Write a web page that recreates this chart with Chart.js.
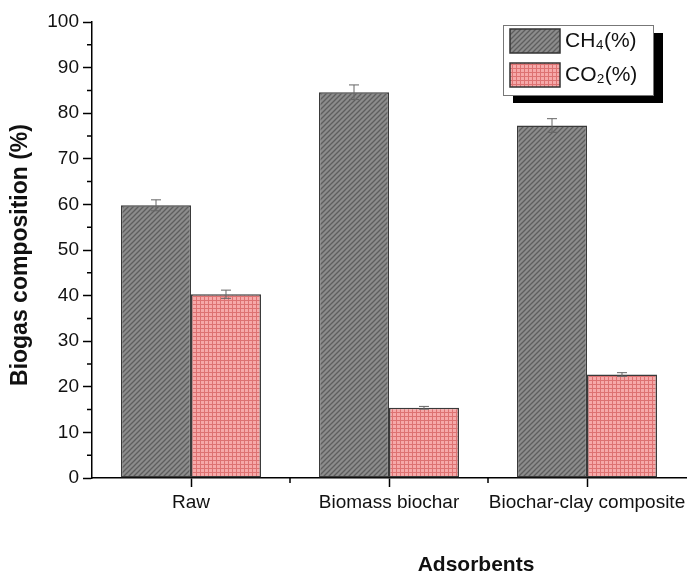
<!DOCTYPE html>
<html>
<head>
<meta charset="utf-8">
<script src="https://cdn.jsdelivr.net/npm/chart.js@4"></script>
<style>
  html, body { margin: 0; padding: 0; background: #fff; }
  #wrap { width: 687px; height: 576px; }
</style>
</head>
<body>
<div id="wrap"><canvas id="myChart"></canvas></div>
<script>
var categories = ['Raw', 'Biomass biochar', 'Biochar-clay composite']
var ch4Values = [59.8, 84.6, 77.3]
var ch4Errors = [1.2, 1.6, 1.5]
var co2Values = [40.3, 15.4, 22.7]
var co2Errors = [0.9, 0.3, 0.4]
var yTicks = [0, 10, 20, 30, 40, 50, 60, 70, 80, 90, 100]
var xTitle = 'Adsorbents'
var yTitle = 'Biogas composition (%)'

var fontFamily = '"Liberation Sans", Arial, sans-serif'

function hatchPattern() {
	var c = document.createElement('canvas')
	c.width = 5; c.height = 5
	var g = c.getContext('2d')
	g.fillStyle = '#8c8c8c'
	g.fillRect(0, 0, 5, 5)
	g.strokeStyle = '#5e5e5e'
	g.lineWidth = 1.3
	g.beginPath()
	g.moveTo(-1, 6); g.lineTo(6, -1)
	g.moveTo(-1, 1); g.lineTo(1, -1)
	g.moveTo(4, 6); g.lineTo(6, 4)
	g.stroke()
	return g.createPattern(c, 'repeat')
}

function gridPattern() {
	var c = document.createElement('canvas')
	c.width = 4; c.height = 4
	var g = c.getContext('2d')
	g.fillStyle = '#f6a9a9'
	g.fillRect(0, 0, 4, 4)
	g.fillStyle = '#dd7272'
	g.fillRect(0, 0, 4, 1)
	g.fillRect(0, 0, 1, 4)
	return g.createPattern(c, 'repeat')
}

var ch4Fill = hatchPattern()
var co2Fill = gridPattern()

// error bars, drawn through the y scale
var errorBars = {
	id: 'errorBars',
	afterDatasetsDraw: function (chart) {
		var ctx = chart.ctx
		var y = chart.scales.y
		var errs = [ch4Errors, co2Errors]
		chart.data.datasets.forEach(function (ds, i) {
			var meta = chart.getDatasetMeta(i)
			meta.data.forEach(function (bar, j) {
				var v = ds.data[j], e = errs[i][j]
				var top = y.getPixelForValue(v + e)
				var bot = y.getPixelForValue(v - e)
				ctx.save()
				ctx.strokeStyle = '#666'
				ctx.lineWidth = 1
				ctx.beginPath()
				ctx.moveTo(bar.x, top); ctx.lineTo(bar.x, bot)
				ctx.moveTo(bar.x - 5, top); ctx.lineTo(bar.x + 5, top)
				ctx.moveTo(bar.x - 5, bot); ctx.lineTo(bar.x + 5, bot)
				ctx.stroke()
				ctx.restore()
			})
		})
	}
}

// minor ticks, boundary ticks and axis titles
var axisExtras = {
	id: 'axisExtras',
	afterDraw: function (chart) {
		var ctx = chart.ctx
		var y = chart.scales.y, x = chart.scales.x
		var area = chart.chartArea
		ctx.save()
		ctx.strokeStyle = '#000'
		ctx.lineWidth = 1.5
		ctx.beginPath()
		for (var k = 0; k < yTicks.length - 1; k++) {
			var py = y.getPixelForValue((yTicks[k] + yTicks[k + 1]) / 2)
			ctx.moveTo(area.left, py); ctx.lineTo(area.left - 5, py)
		}
		for (var i = 0; i < categories.length - 1; i++) {
			var px = (x.getPixelForValue(i) + x.getPixelForValue(i + 1)) / 2
			ctx.moveTo(px, area.bottom); ctx.lineTo(px, area.bottom + 5)
		}
		ctx.stroke()

		ctx.fillStyle = '#111'
		ctx.font = 'bold 21px ' + fontFamily
		ctx.textAlign = 'center'
		ctx.textBaseline = 'middle'
		ctx.fillText(xTitle, 476, 565)
		ctx.font = 'bold 23px ' + fontFamily
		ctx.translate(21, 255)
		ctx.rotate(-Math.PI / 2)
		ctx.fillText(yTitle, 0, 0)
		ctx.restore()
	}
}

// boxed legend with shadow
var boxLegend = {
	id: 'boxLegend',
	afterDraw: function (chart) {
		var ctx = chart.ctx
		var bx = 503, by = 25, bw = 150, bh = 70
		ctx.save()
		ctx.fillStyle = '#000'
		ctx.fillRect(bx + 10, by + 8, bw, bh)
		ctx.fillStyle = '#fff'
		ctx.fillRect(bx, by, bw, bh)
		ctx.strokeStyle = '#777'
		ctx.lineWidth = 1
		ctx.strokeRect(bx + 0.5, by + 0.5, bw, bh)
		chart.data.datasets.forEach(function (ds, i) {
			var sy = by + 4 + i * 34
			ctx.fillStyle = ds.backgroundColor
			ctx.fillRect(bx + 7, sy, 50, 24)
			ctx.strokeStyle = '#333'
			ctx.lineWidth = 1.5
			ctx.strokeRect(bx + 7, sy, 50, 24)
			ctx.fillStyle = '#111'
			ctx.font = '21px ' + fontFamily
			ctx.textBaseline = 'middle'
			ctx.fillText(ds.label, bx + 62, sy + 12)
		})
		ctx.restore()
	}
}

var ctx = document.getElementById('myChart')
var chart = new Chart(ctx, {
	type: 'bar',
	data: {
		labels: categories,
		datasets: [{
			label: 'CH₄(%)',
			data: ch4Values,
			backgroundColor: ch4Fill,
			borderColor: '#3a3a3a',
			borderWidth: 1.5,
			borderSkipped: false,
		}, {
			label: 'CO₂(%)',
			data: co2Values,
			backgroundColor: co2Fill,
			borderColor: '#3a3a3a',
			borderWidth: 1.5,
			borderSkipped: false,
		}]
	},
	options: {
		responsive: true,
		maintainAspectRatio: false,
		animation: false,
		layout: { padding: { top: 22, right: 1, left: 0, bottom: 0 } },
		datasets: { bar: { categoryPercentage: 0.707, barPercentage: 1 } },
		plugins: { legend: { display: false }, tooltip: { enabled: false } },
		scales: {
			x: {
				offset: true,
				grid: { display: true, drawOnChartArea: false, offset: false, tickLength: 9, tickColor: '#000', tickWidth: 1.5 },
				border: { color: '#000', width: 1.5 },
				ticks: { color: '#111', font: { size: 19, family: fontFamily }, padding: 4, maxRotation: 0, autoSkip: false },
				afterFit: function (s) { s.height = 98; s.paddingLeft = 0; s.paddingRight = 0 }
			},
			y: {
				min: 0, max: 100,
				afterBuildTicks: function (s) { s.ticks = yTicks.map(function (v) { return { value: v } }) },
				grid: { drawOnChartArea: false, tickLength: 9, tickColor: '#000', tickWidth: 1.5 },
				border: { color: '#000', width: 1.5 },
				ticks: { color: '#111', font: { size: 19, family: fontFamily }, padding: 4 },
				afterFit: function (s) { s.width = 92 }
			}
		}
	},
	plugins: [errorBars, axisExtras, boxLegend]
})
</script>
</body>
</html>
